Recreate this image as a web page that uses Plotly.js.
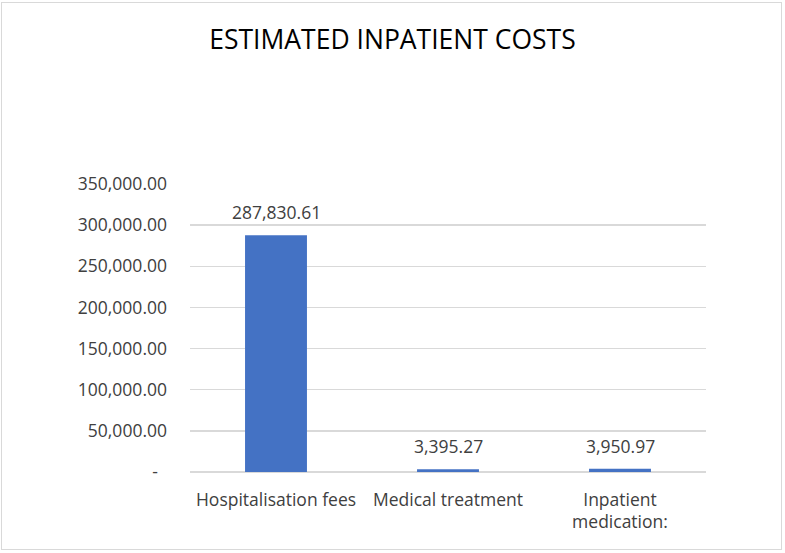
<!DOCTYPE html>
<html>
<head>
<meta charset="utf-8">
<script src="https://cdn.plot.ly/plotly-3.0.1.min.js"></script>
<style>
  html, body { margin: 0; padding: 0; background: #fff; }
  #wrap { position: relative; width: 785px; height: 553px; }
  #chart { width: 785px; height: 553px; }
  #frame { position: absolute; left: 1px; top: 2px; width: 779px; height: 546px;
           border: 1px solid #d9d9d9; pointer-events: none; }
</style>
</head>
<body>
<div id="wrap">
  <div id="chart"></div>
  <div id="frame"></div>
</div>
<script>
const categories = ["Hospitalisation fees", "Medical treatment", "Inpatient<br>medication:"];
const costs = [287830.61, 3395.27, 3950.97];
const tickValues = [0, 50000, 100000, 150000, 200000, 250000, 300000, 350000];
const tickLabels = ["-\u00a0\u00a0", "50,000.00", "100,000.00", "150,000.00", "200,000.00", "250,000.00", "300,000.00", "350,000.00"];

const fontFamily = "'Open Sans', sans-serif";
const fmt = v => v.toLocaleString("en-US", {minimumFractionDigits: 2, maximumFractionDigits: 2});

const trace = {
  type: "bar",
  x: categories,
  y: costs,
  marker: { color: "#4472C4" },
  hoverinfo: "none"
};

const annotations = categories.map((c, i) => ({
  x: c, y: costs[i], xref: "x", yref: "y",
  text: fmt(costs[i]), showarrow: false,
  yanchor: "bottom", yshift: 9,
  font: { family: fontFamily, size: 17.5, color: "#404040" }
}));

const layout = {
  width: 785, height: 553,
  margin: { l: 190, r: 79, t: 184, b: 81, pad: 0 },
  paper_bgcolor: "#fff", plot_bgcolor: "#fff",
  showlegend: false,
  bargap: 0.64,
  title: {
    text: "ESTIMATED INPATIENT COSTS",
    xref: "container", x: 0.5, xanchor: "center",
    yref: "container", y: 1 - 40/553, yanchor: "middle",
    font: { family: fontFamily, size: 26.5, color: "#000" }
  },
  xaxis: {
    type: "category",
    showgrid: false, zeroline: false, showline: false,
    ticks: "", ticklen: 0,
    tickfont: { family: fontFamily, size: 17.5, color: "#404040" },
    ticklabelstandoff: 15
  },
  yaxis: {
    range: [0, 350000],
    tickmode: "array", tickvals: tickValues, ticktext: tickLabels,
    showgrid: true, gridcolor: "#d9d9d9", gridwidth: 1.3,
    zeroline: true, zerolinecolor: "#d9d9d9", zerolinewidth: 1.3,
    showline: false, ticks: "",
    tickfont: { family: fontFamily, size: 17.5, color: "#404040" },
    ticklabelstandoff: 22
  },
  annotations: annotations
};

Plotly.newPlot("chart", [trace], layout, { staticPlot: true, displayModeBar: false });
</script>
</body>
</html>
